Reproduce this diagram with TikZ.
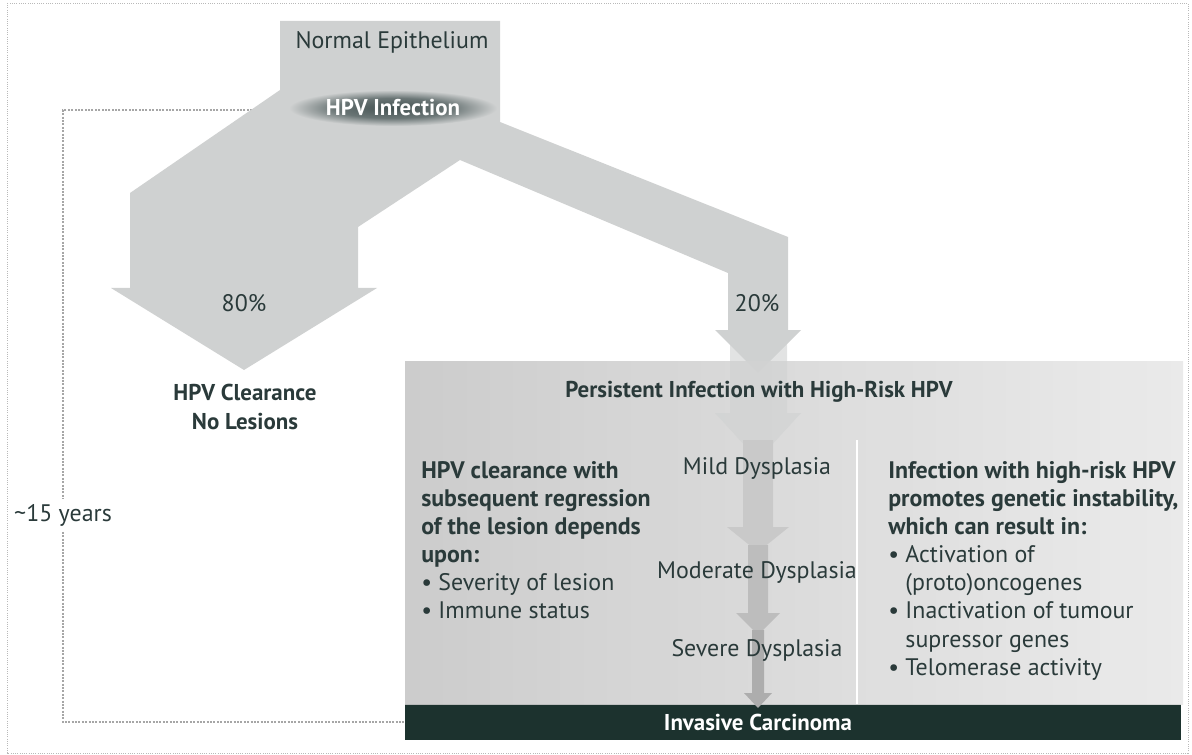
\documentclass[tikz,border=0pt]{standalone}
\usepackage{fontspec}
\setmainfont{PT Sans}
\usetikzlibrary{positioning,shapes.geometric}

\definecolor{inktext}{RGB}{42,58,58}
\definecolor{carcbar}{RGB}{28,50,46}
\definecolor{flowgray}{RGB}{207,209,209}
\pgfdeclareradialshading{infectglow}{\pgfpoint{0bp}{0bp}}{color(0bp)=(inktext!88); color(14bp)=(inktext!70); color(25bp)=(flowgray); color(50bp)=(flowgray)}

\begin{document}
\begin{tikzpicture}[
    x=0.025cm, y=-0.025cm,
    every node/.style={
        font=\fontsize{17}{20}\selectfont,
        text=inktext,
        inner sep=0pt
    },
    boldlabel/.style={font=\fontsize{16.3}{20}\selectfont\bfseries, align=center},
    column/.style={align=left, anchor=north west},
    flow/.style={fill=flowgray, draw=none},
    loopline/.style={draw=gray!70, densely dotted, line width=1.4pt}
]
\useasboundingbox (0,0) rectangle (1192,755);
\draw[gray!55, densely dotted, line width=0.6pt] (7,3) rectangle (1188,753);

% time loop on the left
\node[fill=white, inner sep=4pt] (years) at (63,515) {\textasciitilde 15 years};
\node[fill=carcbar, minimum width=19.4cm, minimum height=0.9cm, anchor=north west] (carc) at (405,704) {};
\coordinate (loopstart) at (252,110);
\draw[loopline] (loopstart) -| (years.north);
\draw[loopline] (years.south) |- (carc.west);

% block arrow: epithelium splits into 80% and 20%
\fill[flow] (280,21) -- (500,21) -- (500,122) -- (788,237) -- (788,330) -- (801,330)
    -- (758,373) -- (715,330) -- (728,330) -- (728,273) -- (460,160) -- (358,227)
    -- (358,288) -- (377,288) -- (244,370) -- (111,288) -- (130,288) -- (130,193)
    -- (280,90) -- cycle;

% persistent infection panel
\shade[left color=gray!44, right color=gray!18, opacity=0.9] (405,361) rectangle (1183,704);
\draw[white, line width=0.8pt] (857,440) -- (857,704);

% progression arrows
\fill[flowgray, opacity=0.6] (730,330) -- (787,330) -- (787,413) -- (801,413) -- (758,460)
    -- (715,413) -- (730,413) -- cycle;
\foreach \ya/\yb/\sw/\hw/\yt/\tone in {440/527/15/31/552/42, 545/613/10/22/635/52, 630/693/6/14/708/64}
    \fill[gray!\tone] ({758-\sw},\ya) -- ({758+\sw},\ya) -- ({758+\sw},\yb) -- ({758+\hw},\yb)
        -- (758,\yt) -- ({758-\hw},\yb) -- ({758-\sw},\yb) -- cycle;

% labels on the arrows
\node (normal) at (392,42) {Normal Epithelium};
\node[ellipse, minimum width=5.2cm, minimum height=0.9cm, shading=infectglow,
      text=white, font=\fontsize{16.3}{20}\selectfont\bfseries] (infect) at (393,108) {HPV Infection};
\node (p80) at (244,303) {80\%};
\node (p20) at (757,303) {20\%};
\node[boldlabel] (clear) at (245,407) {HPV Clearance\\No Lesions};
\node[boldlabel] (persist) at (759,392) {Persistent Infection with High-Risk HPV};

% dysplasia stages
\node (mild) at (757,468) {Mild Dysplasia};
\node (moderate) at (757,572) {Moderate Dysplasia};
\node (severe) at (757,650) {Severe Dysplasia};
\node[boldlabel, text=white] (carctext) at (758,722) {Invasive Carcinoma};

% side columns
\node[column] (regress) at (421,461) {\textbf{HPV clearance with}\\
    \textbf{subsequent regression}\\
    \textbf{of the lesion depends}\\
    \textbf{upon:}\\
    • Severity of lesion\\
    • Immune status};
\node[column] (genetic) at (888,461) {\textbf{Infection with high-risk HPV}\\
    \textbf{promotes genetic instability,}\\
    \textbf{which can result in:}\\
    • Activation of\\
    \phantom{• }(proto)oncogenes\\
    • Inactivation of tumour\\
    \phantom{• }supressor genes\\
    • Telomerase activity};

\end{tikzpicture}
\end{document}
